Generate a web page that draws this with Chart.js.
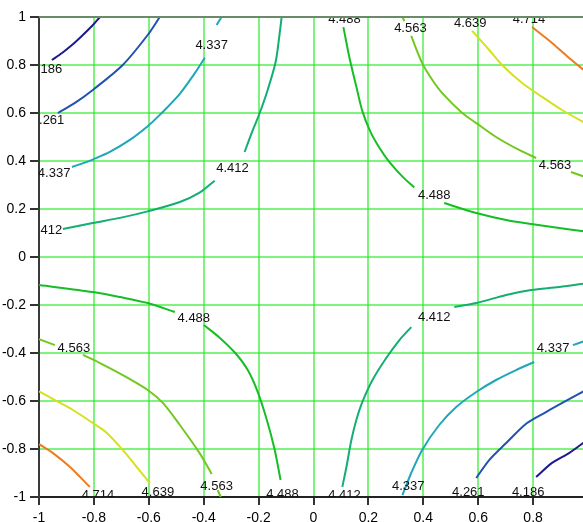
<!DOCTYPE html>
<html><head><meta charset="utf-8">
<script src="https://cdn.jsdelivr.net/npm/chart.js@4.4.1/dist/chart.umd.min.js"></script>
<style>html,body{margin:0;padding:0;overflow:hidden;background:#fff}
#wrap{position:absolute;left:0;top:0;width:600px;height:522px}</style>
</head><body><div id="wrap"><canvas id="c" width="600" height="522"></canvas></div>
<script>
// Tick values
const xTicks = [-1, -0.8, -0.6, -0.4, -0.2, 0, 0.2, 0.4, 0.6, 0.8, 1];
const yTicks = [1, 0.8, 0.6, 0.4, 0.2, 0, -0.2, -0.4, -0.6, -0.8, -1];

// Contour levels
const levels = [4.186, 4.261, 4.337, 4.412, 4.488, 4.563, 4.639, 4.714];
const levelColors = ['#1e1a8c', '#2152b0', '#1fa6b8', '#14ae72', '#16be26', '#72c81e', '#d6e01e', '#f07a1e'];

// Contour segments [x, y]
const c4186_tl = [[-0.953,0.821],[-0.916,0.85],[-0.88,0.883],[-0.844,0.921],[-0.807,0.9625],[-0.778,1.0]];
const c4186_br = [[0.811,-0.917],[0.869,-0.858],[0.931,-0.817],[1.0,-0.76]];
const c4261_tl = [[-0.931,0.6],[-0.869,0.642],[-0.804,0.696],[-0.695,0.8],[-0.604,0.925],[-0.56,1.0]];
const c4261_br = [[0.593,-0.921],[0.64,-0.846],[0.702,-0.775],[0.778,-0.692],[0.847,-0.646],[0.913,-0.604],[1.0,-0.55]];
const c4337_tl_a = [[-0.88,0.375],[-0.833,0.393],[-0.804,0.406],[-0.742,0.438],[-0.669,0.488],[-0.604,0.545],[-0.56,0.592],[-0.487,0.68],[-0.433,0.765],[-0.396,0.83]];
const c4337_tl_b = [[-0.353,0.967],[-0.335,1.0]];
const c4337_br_a = [[0.324,-0.992],[0.356,-0.9],[0.396,-0.804],[0.458,-0.7],[0.52,-0.625],[0.593,-0.5625],[0.665,-0.5125],[0.738,-0.471],[0.804,-0.4375]];
const c4337_br_b = [[0.945,-0.367],[1.0,-0.345]];
const c4412_l_a = [[-0.913,0.117],[-0.804,0.142],[-0.705,0.163],[-0.604,0.19],[-0.487,0.229],[-0.415,0.268],[-0.36,0.318]];
const c4412_l_b = [[-0.251,0.4375],[-0.225,0.517],[-0.196,0.6],[-0.167,0.696],[-0.138,0.8125],[-0.124,0.925],[-0.116,1.0]];
const c4412_r_a = [[0.105,-0.958],[0.12,-0.875],[0.138,-0.7625],[0.156,-0.679],[0.178,-0.604],[0.215,-0.5125],[0.265,-0.421],[0.313,-0.346],[0.356,-0.292]];
const c4412_r_b = [[0.513,-0.208],[0.593,-0.192],[0.702,-0.158],[0.793,-0.1375],[0.895,-0.125],[1.0,-0.108]];
const c4488_r_a = [[0.109,0.958],[0.131,0.83],[0.156,0.71],[0.178,0.608],[0.208,0.52],[0.24,0.455],[0.276,0.396],[0.324,0.335],[0.367,0.29]];
const c4488_r_b = [[0.476,0.225],[0.593,0.183],[0.702,0.154],[0.793,0.1375],[0.895,0.121],[1.0,0.105]];
const c4488_l_a = [[-1.0,-0.117],[-0.804,-0.146],[-0.705,-0.167],[-0.604,-0.192],[-0.505,-0.229]];
const c4488_l_b = [[-0.4,-0.283],[-0.342,-0.336],[-0.285,-0.4],[-0.24,-0.47],[-0.204,-0.56],[-0.171,-0.675],[-0.142,-0.8],[-0.12,-0.929]];
const c4563_tr_a = [[0.324,1.0],[0.331,0.983]];
const c4563_tr_b = [[0.356,0.921],[0.396,0.808],[0.433,0.7375],[0.469,0.683],[0.542,0.6],[0.593,0.558],[0.665,0.5],[0.749,0.446],[0.811,0.4125]];
const c4563_tr_c = [[0.938,0.354],[1.0,0.329]];
const c4563_bl_a = [[-1.0,-0.342],[-0.942,-0.367]];
const c4563_bl_b = [[-0.84,-0.408],[-0.778,-0.442],[-0.695,-0.492],[-0.604,-0.554],[-0.549,-0.608],[-0.487,-0.7],[-0.415,-0.817],[-0.371,-0.904]];
const c4563_bl_c = [[-0.349,-0.971],[-0.338,-1.0]];
const c4639_tr = [[0.578,0.942],[0.64,0.8625],[0.687,0.8],[0.76,0.725],[0.833,0.667],[0.905,0.6125],[1.0,0.552]];
const c4639_bl = [[-1.0,-0.56],[-0.942,-0.596],[-0.876,-0.6375],[-0.804,-0.692],[-0.753,-0.733],[-0.695,-0.804],[-0.644,-0.875],[-0.596,-0.942]];
const c4714_tr = [[0.796,0.958],[0.869,0.892],[0.931,0.829],[1.0,0.765]];
const c4714_bl = [[-1.0,-0.78],[-0.949,-0.817],[-0.887,-0.875],[-0.815,-0.958]];

const segments = [
  [4.186, c4186_tl], [4.186, c4186_br],
  [4.261, c4261_tl], [4.261, c4261_br],
  [4.337, c4337_tl_a], [4.337, c4337_tl_b], [4.337, c4337_br_a], [4.337, c4337_br_b],
  [4.412, c4412_l_a], [4.412, c4412_l_b], [4.412, c4412_r_a], [4.412, c4412_r_b],
  [4.488, c4488_r_a], [4.488, c4488_r_b], [4.488, c4488_l_a], [4.488, c4488_l_b],
  [4.563, c4563_tr_a], [4.563, c4563_tr_b], [4.563, c4563_tr_c],
  [4.563, c4563_bl_a], [4.563, c4563_bl_b], [4.563, c4563_bl_c],
  [4.639, c4639_tr], [4.639, c4639_bl],
  [4.714, c4714_tr], [4.714, c4714_bl]
];

// Contour label texts and anchor positions (data units)
const labelText = ['4.186','4.261','4.337','4.337','4.412','4.412','4.488','4.488','4.563','4.563','4.639','4.714',
                   '4.488','4.488','4.563','4.563','4.639','4.714','4.412','4.412','4.337','4.337','4.261','4.186'];
const labelX = [-0.975,-0.967,-0.945,-0.371,-0.975,-0.295,0.113,0.44,0.353,0.88,0.571,0.785,
                -0.436,-0.113,-0.873,-0.353,-0.567,-0.785,0.44,0.113,0.873,0.345,0.564,0.782];
const labelY = [0.783,0.571,0.35,0.883,0.1125,0.371,0.988,0.258,0.954,0.383,0.975,0.988,
                -0.254,-0.9875,-0.379,-0.958,-0.979,-0.992,-0.25,-0.992,-0.379,-0.958,-0.979,-0.983];

const FONT = '"Liberation Sans", Arial, sans-serif';

const datasets = segments.map(([lv, pts]) => ({
  data: pts.map(p => ({x: p[0], y: p[1]})),
  showLine: true,
  borderColor: levelColors[levels.indexOf(lv)],
  borderWidth: 2,
  pointRadius: 0,
  tension: 0.3,
  fill: false
}));

const framePlugin = {
  id: 'frame',
  afterDatasetsDraw(chart) {
    const {ctx, chartArea: a, scales} = chart;
    ctx.save();
    ctx.beginPath();
    ctx.rect(a.left, a.top, a.right - a.left, a.bottom - a.top);
    ctx.clip();
    ctx.font = '13px ' + FONT;
    ctx.fillStyle = '#111';
    ctx.textAlign = 'center';
    ctx.textBaseline = 'middle';
    for (let i = 0; i < labelText.length; i++) {
      ctx.fillText(labelText[i], scales.x.getPixelForValue(labelX[i]), scales.y.getPixelForValue(labelY[i]));
    }
    ctx.restore();
    // top border
    ctx.save();
    ctx.strokeStyle = '#6a8a6a';
    ctx.lineWidth = 2;
    ctx.beginPath();
    ctx.moveTo(a.left, a.top);
    ctx.lineTo(a.right, a.top);
    ctx.stroke();
    ctx.restore();
  }
};

const fmt = v => String(Math.round(v * 10) / 10);

new Chart(document.getElementById('c'), {
  type: 'scatter',
  data: {datasets},
  plugins: [framePlugin],
  options: {
    responsive: false,
    animation: false,
    devicePixelRatio: 1,
    layout: {padding: {top: 17, right: 12, left: 0, bottom: 0}},
    plugins: {legend: {display: false}, tooltip: {enabled: false}},
    scales: {
      x: {
        type: 'linear', min: -1, max: 1, position: 'bottom',
        afterBuildTicks: ax => { ax.ticks = xTicks.map(v => ({value: v})); },
        afterFit: ax => { ax.height = 25; },
        ticks: {font: {family: FONT, size: 14}, color: '#000', padding: 5, maxRotation: 0, autoSkip: false, callback: fmt},
        grid: {
          color: c => (c.tick && (c.tick.value === -1 || c.tick.value === 1)) ? 'rgba(0,0,0,0)' : 'rgba(40,235,40,0.6)',
          lineWidth: 2, tickColor: '#333', tickLength: 8, drawOnChartArea: true
        },
        border: {color: '#222', width: 2}
      },
      y: {
        type: 'linear', min: -1, max: 1, position: 'left',
        afterBuildTicks: ax => { ax.ticks = yTicks.map(v => ({value: v})); },
        afterFit: ax => { ax.width = 39; },
        ticks: {font: {family: FONT, size: 14}, color: '#000', padding: 4, autoSkip: false, callback: fmt},
        grid: {
          color: c => (c.tick && (c.tick.value === -1 || c.tick.value === 1)) ? 'rgba(0,0,0,0)' : 'rgba(40,235,40,0.6)',
          lineWidth: 2, tickColor: '#333', tickLength: 9
        },
        border: {color: '#3a3a3a', width: 2}
      }
    }
  }
});
</script></body></html>
